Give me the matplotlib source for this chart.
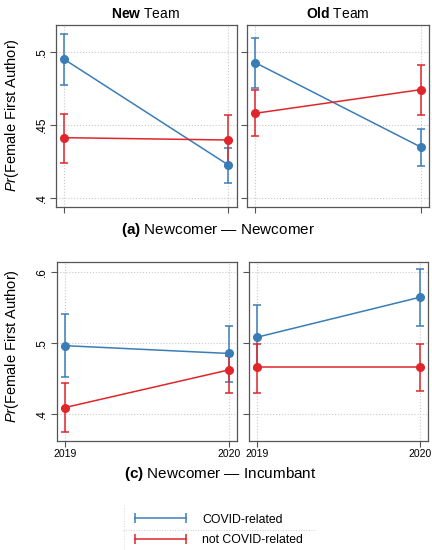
import matplotlib
matplotlib.use("Agg")
import matplotlib.pyplot as plt
from matplotlib.lines import Line2D
import numpy as np

plt.rcParams['font.family'] = ['Liberation Sans', 'DejaVu Sans']
plt.rcParams['mathtext.fontset'] = 'custom'
plt.rcParams['mathtext.rm'] = 'Liberation Sans'
plt.rcParams['mathtext.it'] = 'Liberation Sans:italic'
plt.rcParams['mathtext.bf'] = 'Liberation Sans:bold'

years = ["2019", "2020"]
series = ["COVID-related", "not COVID-related"]
colors = ["#3a7db6", "#e0262b"]

# (a) Newcomer - Newcomer
a_new_covid = [0.495, 0.4226]
a_new_covid_lo = [0.4776, 0.4105]
a_new_covid_hi = [0.5125, 0.4345]
a_new_not = [0.4413, 0.4397]
a_new_not_lo = [0.4240, 0.4220]
a_new_not_hi = [0.4575, 0.4571]

a_old_covid = [0.4927, 0.4349]
a_old_covid_lo = [0.4751, 0.4221]
a_old_covid_hi = [0.5098, 0.4475]
a_old_not = [0.4580, 0.4742]
a_old_not_lo = [0.4425, 0.4571]
a_old_not_hi = [0.4738, 0.4911]

# (c) Newcomer - Incumbant
c_new_covid = [0.496, 0.485]
c_new_covid_lo = [0.452, 0.445]
c_new_covid_hi = [0.541, 0.524]
c_new_not = [0.409, 0.462]
c_new_not_lo = [0.374, 0.429]
c_new_not_hi = [0.444, 0.482]

c_old_covid = [0.508, 0.564]
c_old_covid_lo = [0.463, 0.524]
c_old_covid_hi = [0.553, 0.604]
c_old_not = [0.466, 0.466]
c_old_not_lo = [0.429, 0.432]
c_old_not_hi = [0.499, 0.499]

top_yticks = [0.4, 0.45, 0.5]
top_ylabels = [".4", ".45", ".5"]
bot_yticks = [0.4, 0.5, 0.6]
bot_ylabels = [".4", ".5", ".6"]

W, H = 432, 550
fig = plt.figure(figsize=(W / 100, H / 100), dpi=100)

def rect(x0, y0, x1, y1):
    return [x0 / W, 1 - y1 / H, (x1 - x0) / W, (y1 - y0) / H]

ax_tl = fig.add_axes(rect(56, 25, 236.5, 207))
ax_tr = fig.add_axes(rect(247, 25, 429, 207))
ax_bl = fig.add_axes(rect(56.7, 261.7, 237.3, 441))
ax_br = fig.add_axes(rect(249.3, 261.7, 428, 441))

panels = [
    (ax_tl, [(a_new_covid, a_new_covid_lo, a_new_covid_hi), (a_new_not, a_new_not_lo, a_new_not_hi)], (0.3938, 0.5185), top_yticks, top_ylabels, False),
    (ax_tr, [(a_old_covid, a_old_covid_lo, a_old_covid_hi), (a_old_not, a_old_not_lo, a_old_not_hi)], (0.3938, 0.5185), top_yticks, top_ylabels, False),
    (ax_bl, [(c_new_covid, c_new_covid_lo, c_new_covid_hi), (c_new_not, c_new_not_lo, c_new_not_hi)], (0.362, 0.614), bot_yticks, bot_ylabels, True),
    (ax_br, [(c_old_covid, c_old_covid_lo, c_old_covid_hi), (c_old_not, c_old_not_lo, c_old_not_hi)], (0.362, 0.614), bot_yticks, bot_ylabels, True),
]

x = np.arange(len(years))
for idx, (ax, data, ylim, yt, yl, showx) in enumerate(panels):
    for (v, lo, hi), c in zip(data, colors):
        v = np.array(v); lo = np.array(lo); hi = np.array(hi)
        ax.errorbar(x, v, yerr=[v - lo, hi - v], color=c, lw=1.1, elinewidth=1.1,
                    capsize=3, capthick=1.1, marker='o', markersize=5.5, zorder=3)
    ax.set_xlim(-0.05, 1.05)
    ax.set_ylim(*ylim)
    ax.set_yticks(yt)
    ax.set_xticks(x)
    if idx in (0, 2):
        ax.set_yticklabels(yl, rotation=90, va='center', fontsize=8.5)
    else:
        ax.set_yticklabels([])
        ax.tick_params(axis='y', length=0)
    if showx:
        ax.set_xticklabels(years, fontsize=7.5)
    else:
        ax.set_xticklabels([])
    ax.grid(True, linestyle=':', color='#c8c8c8', linewidth=0.8, zorder=0)
    ax.set_axisbelow(True)
    for s in ax.spines.values():
        s.set_color('#555555')
        s.set_linewidth(0.9)
    ax.tick_params(axis='both', direction='out', length=4, width=0.8, color='#555555', pad=2)

fig.text(146 / W, 1 - 14 / H, r"$\mathbf{New}$ Team", ha='center', va='center', fontsize=10)
fig.text(338 / W, 1 - 14 / H, r"$\mathbf{Old}$ Team", ha='center', va='center', fontsize=10)

fig.text(12 / W, 1 - 115 / H, r"$\mathit{Pr}$(Female First Author)", rotation=90, ha='center', va='center', fontsize=10.5)
fig.text(12 / W, 1 - 346 / H, r"$\mathit{Pr}$(Female First Author)", rotation=90, ha='center', va='center', fontsize=10.5)

fig.text(218 / W, 1 - 230 / H, r"$\mathbf{(a)}$ Newcomer — Newcomer", ha='center', va='center', fontsize=11)
fig.text(220 / W, 1 - 474 / H, r"$\mathbf{(c)}$ Newcomer — Incumbant", ha='center', va='center', fontsize=11)

# legend
fig.add_artist(Line2D([123 / W, 315 / W], [1 - 530 / H, 1 - 530 / H], transform=fig.transFigure,
                      ls=':', color='#cccccc', lw=0.7))
fig.add_artist(Line2D([124 / W, 124 / W], [1 - 505 / H, 1 - 550 / H], transform=fig.transFigure,
                      ls=':', color='#dddddd', lw=0.7))
handles = [Line2D([0], [0], color=c, lw=1.1, marker='|', markersize=7, markeredgewidth=1.1) for c in colors]
fig.legend(handles, series, loc='center left', bbox_to_anchor=(122 / W, 1 - 530 / H),
           frameon=False, fontsize=8.8, numpoints=2, handlelength=4.7, handletextpad=1.05,
           labelspacing=0.7, borderpad=0.3)

fig.savefig("out.png", dpi=100)
